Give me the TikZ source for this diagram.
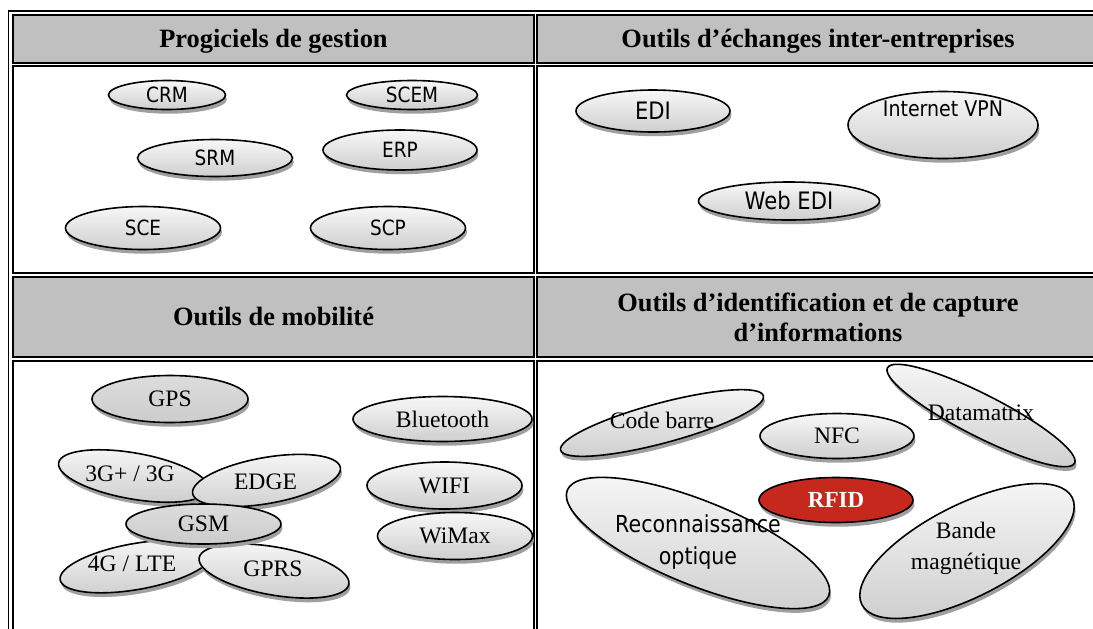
\documentclass[tikz,border=0pt]{standalone}
\usepackage{fontspec}
\setmainfont{Liberation Serif}
\newfontfamily\tahoma[FakeStretch=0.88]{DejaVu Sans}
\usetikzlibrary{shapes.geometric}
\usetikzlibrary{shadows}
\definecolor{headgray}{RGB}{192,192,192}
\definecolor{rfidred}{RGB}{198,40,30}
\tikzset{
    cell/.style={draw=black, line width=1pt},
    head/.style={cell, fill=headgray},
    headtext/.style={font=\fontsize{13.2}{15}\selectfont\bfseries, align=center},
    pill/.style={ellipse, draw=black, line width=0.8pt, inner sep=0pt,
        top color=gray!6, bottom color=gray!38,
        drop shadow={shadow xshift=0.7pt, shadow yshift=-2.1pt, fill=gray!75, opacity=1}},
    darkpill/.style={pill, top color=gray!27, bottom color=gray!40},
    redpill/.style={pill, top color=rfidred, bottom color=rfidred},
    sanstext/.style={font=\tahoma\fontsize{10.5}{12}\selectfont},
    serif/.style={font=\fontsize{11.8}{14}\selectfont},
    }

\begin{document}
\begin{tikzpicture}[x=0.5pt, y=-0.5pt]
	\useasboundingbox (0,0) rectangle (1093,628);
	\clip (0,0) rectangle (1093,628);
	% table frame and cells
	\draw[line width=0.75pt] (8.7,640) -- (8.7,10.5);
	\draw[line width=1pt] (8,11) -- (1100,11);
	\path[head] (13,14.7) rectangle (534,62.7);
	\path[head] (537,14.7) rectangle (1099,62.7);
	\path[cell] (13,66.3) rectangle (534,273);
	\path[cell] (537,66.3) rectangle (1099,273);
	\path[head] (13,276.7) rectangle (534,356.7);
	\path[head] (537,276.7) rectangle (1099,356.7);
	\path[cell] (13,361) rectangle (534,650);
	\path[cell] (537,361) rectangle (1099,650);

	\node[headtext, anchor=base] (hgest) at (273.5,47.5) {Progiciels de gestion};
	\node[headtext, anchor=base] (hechg) at (818,47.5) {Outils d’échanges inter-entreprises};
	\node[headtext, anchor=base] (hmobi) at (273.5,325) {Outils de mobilité};
	\node[headtext] (hiden) at (818,317) {Outils d’identification et de capture\\d’informations};

	% progiciels
	\node[pill, sanstext, minimum width=58.5pt, minimum height=14.5pt] (crm) at (167,95) {CRM};
	\node[pill, sanstext, minimum width=65.5pt, minimum height=14.5pt] (scem) at (412,95) {SCEM};
	\node[pill, sanstext, minimum width=77.5pt, minimum height=18.5pt] (srm) at (215,158) {SRM};
	\node[pill, sanstext, minimum width=77pt, minimum height=20pt] (erp) at (400,150) {ERP};
	\node[pill, sanstext, minimum width=77.5pt, minimum height=21.5pt] (sce) at (143,228) {SCE};
	\node[pill, sanstext, minimum width=77.5pt, minimum height=21.5pt] (scp) at (388,228) {SCP};

	% echanges
	\node[pill, sanstext, font=\tahoma\fontsize{12}{14}\selectfont, minimum width=77pt, minimum height=21pt] (edi) at (653,111) {EDI};
	\node[pill, minimum width=95pt, minimum height=33.5pt] (vpn) at (943,125) {};
	\node[sanstext, font=\tahoma\fontsize{10.8}{13}\selectfont] (vpnt) at (943,109) {Internet VPN};
	\node[pill, sanstext, font=\tahoma\fontsize{12}{14}\selectfont, minimum width=90.5pt, minimum height=19pt] (wedi) at (789,201) {Web EDI};

	% mobilite
	\node[darkpill, serif, minimum width=78pt, minimum height=23.5pt] (gps) at (170,399) {GPS};
	\node[pill, serif, minimum width=89.5pt, minimum height=22.5pt] (blue) at (442.5,419) {Bluetooth};
	\node[pill, serif, minimum width=77.5pt, minimum height=23.5pt] (wifi) at (444.5,485.5) {WIFI};
	\node[pill, serif, minimum width=77.5pt, minimum height=23.5pt] (wimax) at (455,536) {WiMax};
	\node[pill, minimum width=76pt, minimum height=23pt, rotate=-10] (g3) at (133.5,476) {};
	\node[serif] (g3t) at (130,474) {3G+ / 3G};
	\node[pill, minimum width=75pt, minimum height=23pt, rotate=10] (edge) at (266.5,480.5) {};
	\node[serif] (edget) at (265.5,482) {EDGE};
	\node[pill, minimum width=77pt, minimum height=23pt, rotate=10] (g4) at (136,566.5) {};
	\node[serif] (g4t) at (132,564) {4G / LTE};
	\node[pill, minimum width=76pt, minimum height=24pt, rotate=-10] (gprs) at (274,571) {};
	\node[serif] (gprst) at (273,569) {GPRS};
	\node[darkpill, serif, minimum width=77.5pt, minimum height=20pt] (gsm) at (203.5,524) {GSM};

	% identification
	\node[pill, minimum width=105pt, minimum height=20pt, rotate=15] (cbar) at (662,423) {};
	\node[serif] (cbart) at (662,420) {Code barre};
	\node[pill, serif, minimum width=77pt, minimum height=22.5pt] (nfc) at (837,436) {NFC};
	\node[pill, minimum width=105pt, minimum height=21pt, rotate=-27] (dmat) at (981,415.5) {};
	\node[serif] (dmatt) at (981,413) {Datamatrix};
	\node[pill, minimum width=141pt, minimum height=42pt, rotate=-22] (reco) at (698,543) {};
	\node[sanstext, font=\tahoma\fontsize{11.7}{16}\selectfont, align=center] (recot) at (698,542) {Reconnaissance\\optique};
	\node[redpill, minimum width=77pt, minimum height=22.5pt, text=white, font=\fontsize{11.5}{14}\selectfont\bfseries] (rfid) at (836,500) {RFID};
	\node[pill, minimum width=118pt, minimum height=46pt, rotate=27] (band) at (967,551) {};
	\node[serif, font=\fontsize{11.8}{15.5}\selectfont, align=center] (bandt) at (966,548.5) {Bande\\magnétique};
\end{tikzpicture}
\end{document}
